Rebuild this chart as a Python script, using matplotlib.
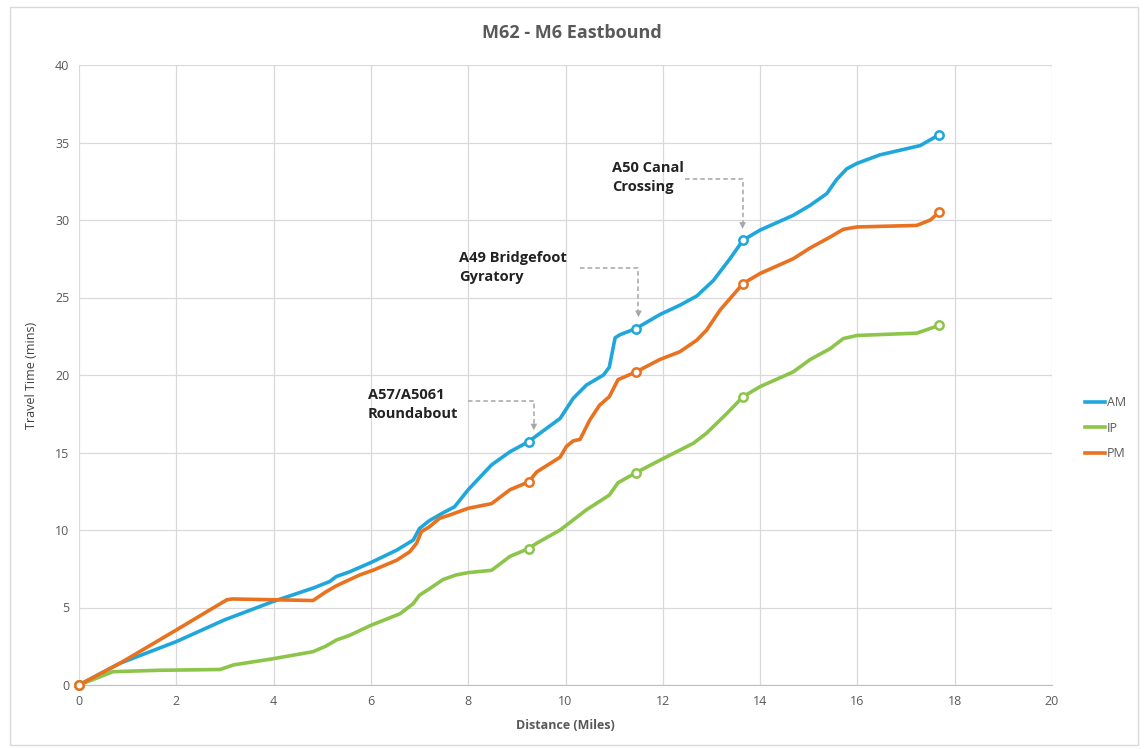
import matplotlib
matplotlib.use("Agg")
import matplotlib.pyplot as plt
from matplotlib.patches import Rectangle

plt.rcParams['font.family'] = ['Open Sans', 'DejaVu Sans']

title = "M62 - M6 Eastbound"
x_label = "Distance (Miles)"
y_label = "Travel Time (mins)"

am_x = [0, 0.84, 2.0, 2.99, 4.0, 4.81, 5.15, 5.29, 5.56, 6.0, 6.53, 6.87, 7.0, 7.2, 7.48, 7.72,
        8.0, 8.48, 8.86, 9.24, 9.89, 10.16, 10.43, 10.78, 10.9, 11.02, 11.12, 11.45, 11.94,
        12.35, 12.7, 13.04, 13.38, 13.65, 14.0, 14.68, 15.03, 15.37, 15.57, 15.78, 15.99,
        16.46, 17.29, 17.68]
am_y = [0, 1.4, 2.8, 4.2, 5.4, 6.25, 6.67, 7.0, 7.3, 7.9, 8.7, 9.35, 10.1, 10.6, 11.1, 11.5,
        12.6, 14.2, 15.05, 15.7, 17.2, 18.5, 19.35, 20.0, 20.5, 22.4, 22.6, 23.0, 23.9,
        24.5, 25.1, 26.1, 27.5, 28.7, 29.35, 30.3, 30.95, 31.7, 32.6, 33.3, 33.65,
        34.2, 34.8, 35.5]

pm_x = [0, 0.84, 2.0, 3.04, 3.15, 4.0, 4.81, 5.07, 5.29, 5.77, 6.04, 6.53, 6.8, 6.94, 7.04,
        7.2, 7.41, 7.65, 8.0, 8.48, 8.86, 9.24, 9.41, 9.89, 10.02, 10.16, 10.3, 10.5, 10.7,
        10.9, 11.08, 11.45, 11.94, 12.35, 12.7, 12.9, 13.18, 13.65, 14.0, 14.68, 15.03,
        15.44, 15.71, 15.99, 17.22, 17.5, 17.68]
pm_y = [0, 1.4, 3.55, 5.5, 5.55, 5.5, 5.45, 6.0, 6.4, 7.1, 7.4, 8.05, 8.6, 9.15, 9.9,
        10.2, 10.75, 11.0, 11.4, 11.7, 12.6, 13.1, 13.75, 14.7, 15.4, 15.75, 15.85, 17.1, 18.05,
        18.6, 19.7, 20.2, 21.0, 21.5, 22.25, 22.9, 24.2, 25.9, 26.55, 27.5, 28.2,
        28.9, 29.4, 29.55, 29.65, 30.0, 30.5]

ip_x = [0, 0.7, 1.66, 2.9, 3.18, 4.0, 4.81, 5.07, 5.29, 5.56, 6.0, 6.6, 6.87, 7.0, 7.2, 7.48,
        7.75, 8.0, 8.48, 8.86, 9.24, 9.41, 9.89, 10.43, 10.9, 11.08, 11.45, 11.94, 12.63,
        12.9, 13.31, 13.65, 14.0, 14.68, 15.03, 15.44, 15.71, 15.99, 17.22, 17.68]
ip_y = [0, 0.86, 0.95, 1.0, 1.3, 1.7, 2.15, 2.5, 2.9, 3.2, 3.85, 4.6, 5.25, 5.8, 6.2, 6.8,
        7.1, 7.25, 7.4, 8.3, 8.8, 9.15, 10.0, 11.3, 12.25, 13.05, 13.7, 14.5, 15.6,
        16.25, 17.5, 18.6, 19.25, 20.2, 21.0, 21.7, 22.35, 22.55, 22.7, 23.2]

marker_x = [0, 9.24, 11.45, 13.65, 17.68]

annotations = ["A57/A5061\nRoundabout", "A49 Bridgefoot\nGyratory", "A50 Canal\nCrossing"]
ann_text_pos = [(5.94, 18.1), (7.81, 26.95), (10.95, 32.75)]
ann_elbow = [(8.0, 18.35, 9.35, 16.25), (10.3, 26.9, 11.5, 23.55), (12.46, 32.65, 13.64, 29.25)]

colors = {"AM": "#1fa7dc", "IP": "#8dc44a", "PM": "#e8721f"}
series = [("AM", am_x, am_y), ("IP", ip_x, ip_y), ("PM", pm_x, pm_y)]

fig = plt.figure(figsize=(11.45, 7.49), dpi=100)
ax = fig.add_axes([79/1145, 1 - 685/749, (1052-79)/1145, (685-65)/749])

for name, xs, ys in series:
    ax.plot(xs, ys, color=colors[name], lw=2.6, solid_joinstyle='round', label=name, zorder=3)
    mx = [x for x in xs if any(abs(x - m) < 1e-6 for m in marker_x)]
    my = [y for x, y in zip(xs, ys) if any(abs(x - m) < 1e-6 for m in marker_x)]
    ax.plot(mx, my, ls='none', marker='o', ms=6, mfc='white', mec=colors[name], mew=1.8,
            zorder=4, clip_on=False)

for txt, (tx, ty), (x0, y0, x1, y1) in zip(annotations, ann_text_pos, ann_elbow):
    ax.text(tx, ty, txt, fontsize=10.5, fontweight='bold', color='#222222',
            ha='left', va='center', linespacing=1.5, zorder=5)
    ax.plot([x0, x1, x1], [y0, y0, y1 + 0.4], color='#a6a6a6', lw=1.1, ls=(0, (3, 2)), zorder=2)
    ax.annotate('', xy=(x1, y1), xytext=(x1, y1 + 0.6),
                arrowprops=dict(arrowstyle='-|>', color='#a6a6a6', lw=0, mutation_scale=12), zorder=2)

ax.set_xlim(0, 20)
ax.set_ylim(0, 40)
ax.set_xticks(range(0, 21, 2))
ax.set_yticks(range(0, 41, 5))
ax.grid(True, color='#d9d9d9', lw=0.9)
ax.set_axisbelow(True)
for s in ['top', 'right', 'left']:
    ax.spines[s].set_visible(False)
ax.spines['bottom'].set_color('#bfbfbf')
ax.tick_params(axis='both', length=0, colors='#595959', labelsize=9, pad=7)
ax.set_xlabel(x_label, fontsize=9, fontweight='bold', color='#595959', labelpad=8)
ax.set_ylabel(y_label, fontsize=9, color='#404040', labelpad=12)

fig.text(572/1145, 1 - 33/749, title, ha='center', va='center', fontsize=13,
         fontweight='bold', color='#595959')

leg = ax.legend(loc='center left', bbox_to_anchor=(1080/1145, 1 - 428/749),
                bbox_transform=fig.transFigure, frameon=False, fontsize=9,
                handlelength=1.6, handletextpad=0.15, labelspacing=1.0, borderaxespad=0)
for t in leg.get_texts():
    t.set_color('#595959')

fig.patches.append(Rectangle((10/1145, 4/749), 1128/1145, 738/749, transform=fig.transFigure,
                             fill=False, edgecolor='#d9d9d9', lw=1))

fig.savefig("out.png", dpi=100)
